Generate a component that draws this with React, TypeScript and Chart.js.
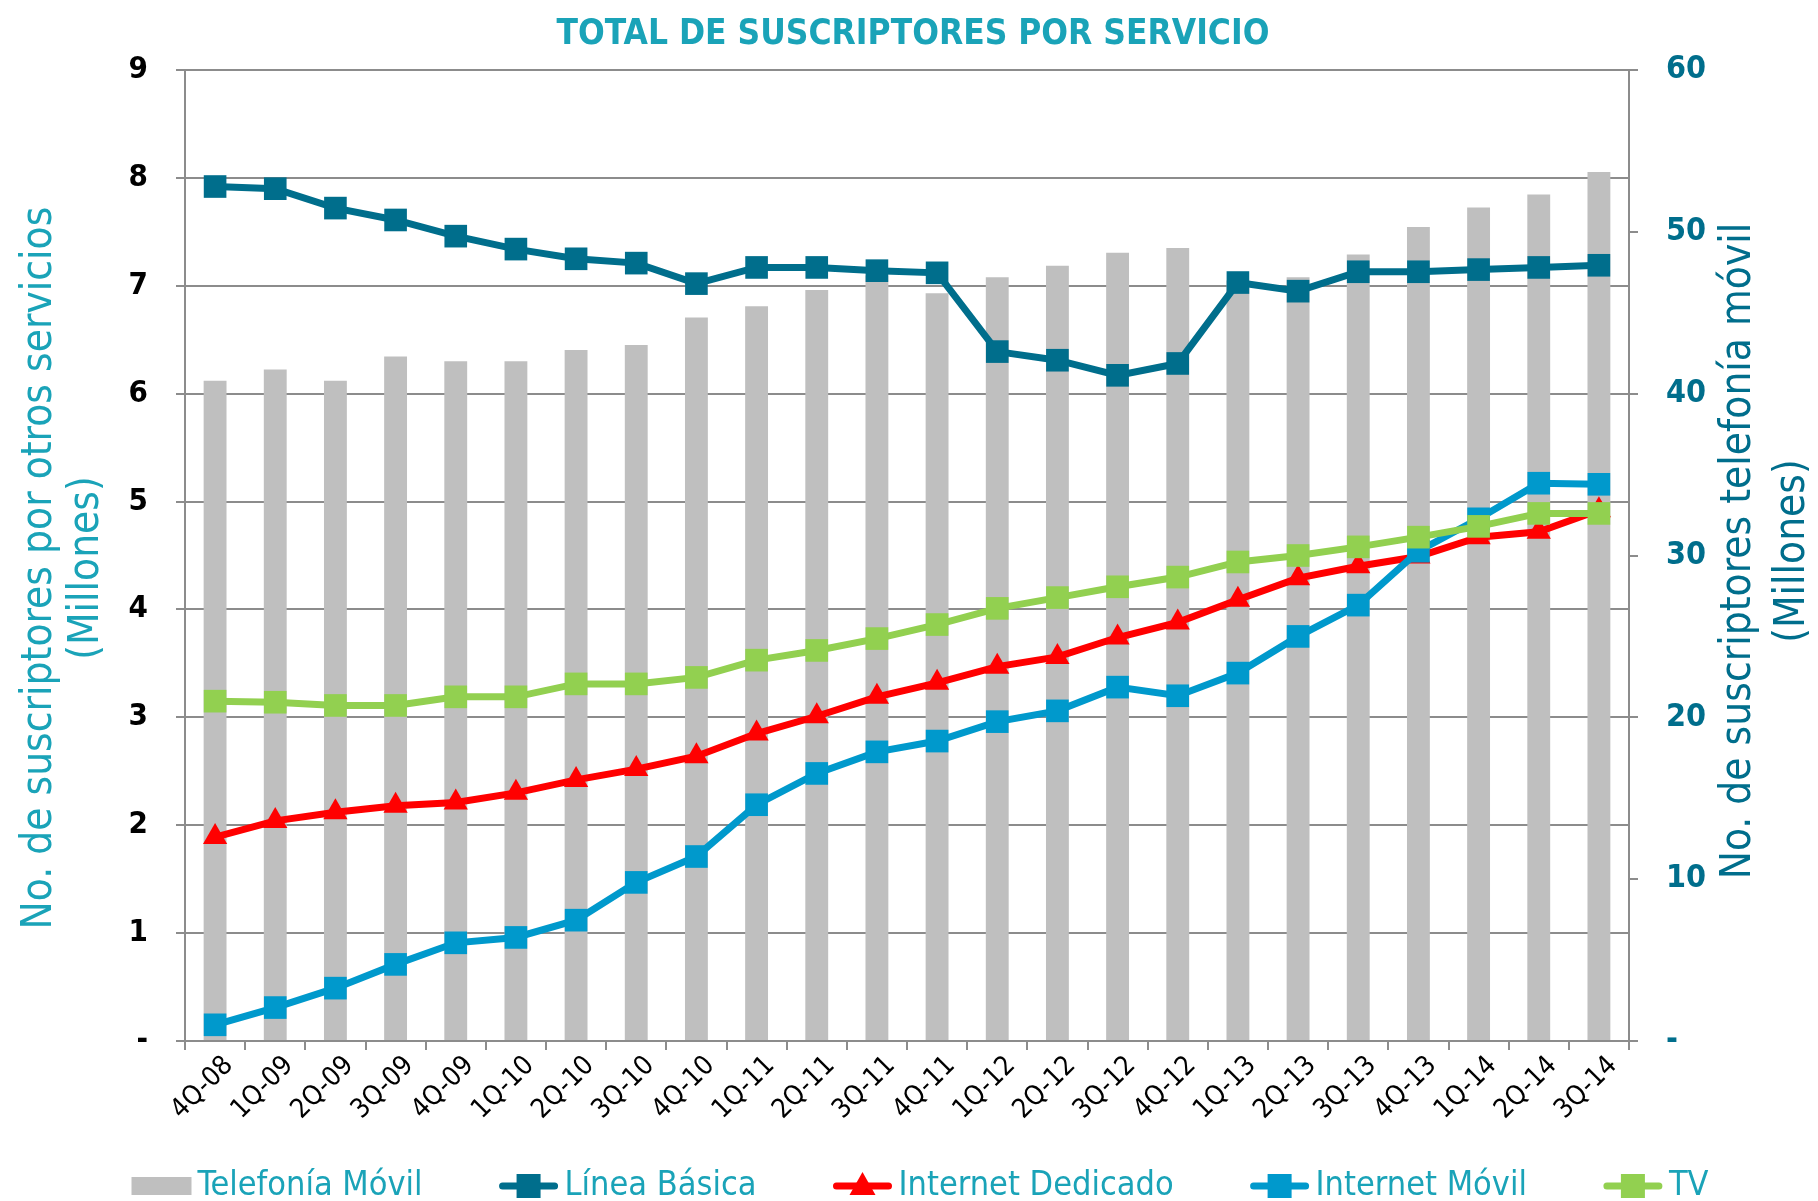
import React, { useEffect, useRef } from "react";
import { Chart, registerables } from "chart.js";

Chart.register(...registerables);

const categories = [
  "4Q-08", "1Q-09", "2Q-09", "3Q-09", "4Q-09", "1Q-10", "2Q-10", "3Q-10",
  "4Q-10", "1Q-11", "2Q-11", "3Q-11", "4Q-11", "1Q-12", "2Q-12", "3Q-12",
  "4Q-12", "1Q-13", "2Q-13", "3Q-13", "4Q-13", "1Q-14", "2Q-14", "3Q-14",
];

const telefoniaMovil = [
  40.8, 41.5, 40.8, 42.3, 42.0, 42.0, 42.7, 43.0, 44.7, 45.4, 46.4, 47.3,
  46.2, 47.2, 47.9, 48.7, 49.0, 47.0, 47.2, 48.6, 50.3, 51.5, 52.3, 53.7,
];

const lineaBasica = [
  7.92, 7.9, 7.72, 7.61, 7.46, 7.34, 7.25, 7.21, 7.02, 7.17, 7.17, 7.14,
  7.12, 6.39, 6.31, 6.17, 6.28, 7.03, 6.95, 7.13, 7.13, 7.15, 7.17, 7.19,
];

const internetDedicado = [
  1.89, 2.04, 2.12, 2.18, 2.21, 2.3, 2.42, 2.52, 2.64, 2.85, 3.01, 3.19,
  3.32, 3.47, 3.56, 3.74, 3.88, 4.09, 4.29, 4.4, 4.49, 4.67, 4.72, 4.92,
];

const internetMovil = [
  0.15, 0.31, 0.49, 0.71, 0.91, 0.96, 1.12, 1.47, 1.71, 2.19, 2.48, 2.68,
  2.78, 2.96, 3.06, 3.28, 3.2, 3.41, 3.75, 4.04, 4.54, 4.84, 5.17, 5.16,
];

const tv = [
  3.15, 3.14, 3.11, 3.11, 3.19, 3.19, 3.31, 3.31, 3.37, 3.53, 3.62, 3.73,
  3.86, 4.01, 4.11, 4.21, 4.3, 4.44, 4.5, 4.58, 4.67, 4.77, 4.89, 4.89,
];

const leftTickLabels = ["-", "1", "2", "3", "4", "5", "6", "7", "8", "9"];
const rightTickLabels = ["-", "10", "20", "30", "40", "50", "60"];

const TITLE = "TOTAL DE SUSCRIPTORES POR SERVICIO";
const LEFT_TITLE = ["No. de suscriptores por otros servicios", "(Millones)"];
const RIGHT_TITLE = ["No. de suscriptores telefonía móvil", "(Millones)"];

const FONT = "'Liberation Sans Narrow', 'DejaVu Sans Condensed', sans-serif";
const TEAL_LIGHT = "#1AA3B8";
const TEAL_DARK = "#006E8C";
const RED = "#FF0000";
const BLUE = "#0099CC";
const GREEN = "#92D050";
const BAR_GREY = "#BFBFBF";
const GRID = "#8C8C8C";

type LegendItem = { label: string; kind: "bar" | "rect" | "triangle"; color: string };
const legendItems: LegendItem[] = [
  { label: "Telefonía Móvil", kind: "bar", color: BAR_GREY },
  { label: "Línea Básica", kind: "rect", color: TEAL_DARK },
  { label: "Internet Dedicado", kind: "triangle", color: RED },
  { label: "Internet Móvil", kind: "rect", color: BLUE },
  { label: "TV", kind: "rect", color: GREEN },
];

const textPlugin = {
  id: "textPlugin",
  afterDraw(chart: any) {
    const ctx: CanvasRenderingContext2D = chart.ctx;
    ctx.save();
    // Title
    ctx.font = `bold 35px ${FONT}`;
    ctx.fillStyle = TEAL_LIGHT;
    ctx.textAlign = "center";
    ctx.textBaseline = "middle";
    ctx.fillText(TITLE, 913, 35);

    // Axis titles
    ctx.font = `42px ${FONT}`;
    const drawRot = (text: string, x: number, y: number, color: string) => {
      ctx.save();
      ctx.translate(x, y);
      ctx.rotate(-Math.PI / 2);
      ctx.fillStyle = color;
      ctx.textAlign = "center";
      ctx.textBaseline = "middle";
      ctx.fillText(text, 0, 0);
      ctx.restore();
    };
    drawRot(LEFT_TITLE[0], 40, 568, TEAL_LIGHT);
    drawRot(LEFT_TITLE[1], 87, 568, TEAL_LIGHT);
    drawRot(RIGHT_TITLE[0], 1739, 551, TEAL_DARK);
    drawRot(RIGHT_TITLE[1], 1793, 551, TEAL_DARK);

    // Legend
    ctx.font = `34px ${FONT}`;
    const iconW = 60;
    const iconGap = 6;
    const itemGap = 76;
    const widths = legendItems.map((it) => iconW + iconGap + ctx.measureText(it.label).width);
    const total = widths.reduce((a, b) => a + b, 0) + itemGap * (legendItems.length - 1);
    let x = 920 - total / 2;
    const cy = 1186;
    legendItems.forEach((it, i) => {
      ctx.fillStyle = it.color;
      if (it.kind === "bar") {
        ctx.fillRect(x, cy - 9, iconW, 18);
      } else {
        ctx.strokeStyle = it.color;
        ctx.lineWidth = 7;
        ctx.lineCap = "round";
        ctx.beginPath();
        ctx.moveTo(x + 4, cy);
        ctx.lineTo(x + iconW - 4, cy);
        ctx.stroke();
        const mx = x + iconW / 2;
        if (it.kind === "rect") {
          ctx.fillRect(mx - 12, cy - 12, 24, 24);
        } else {
          ctx.beginPath();
          ctx.moveTo(mx, cy - 14);
          ctx.lineTo(mx + 13, cy + 9);
          ctx.lineTo(mx - 13, cy + 9);
          ctx.closePath();
          ctx.fill();
        }
      }
      ctx.fillStyle = TEAL_LIGHT;
      ctx.textAlign = "left";
      ctx.textBaseline = "middle";
      ctx.fillText(it.label, x + iconW + iconGap, cy);
      x += widths[i] + itemGap;
    });
    ctx.restore();
  },
};

export default function App() {
  const canvasRef = useRef<HTMLCanvasElement | null>(null);

  useEffect(() => {
    if (!canvasRef.current) return;
    const lineDs = (label: string, data: number[], color: string, style: string, radius: number, order: number) => ({
      type: "line" as const,
      label,
      data,
      yAxisID: "y",
      borderColor: color,
      backgroundColor: color,
      borderWidth: 7,
      tension: 0,
      pointStyle: style,
      pointRadius: radius,
      pointHoverRadius: radius,
      pointBackgroundColor: color,
      pointBorderColor: color,
      pointBorderWidth: 0,
      order,
    });

    const chart = new Chart(canvasRef.current, {
      type: "bar",
      data: {
        labels: categories,
        datasets: [
          {
            type: "bar",
            label: "Telefonía Móvil",
            data: telefoniaMovil,
            yAxisID: "y1",
            backgroundColor: BAR_GREY,
            barPercentage: 0.38,
            categoryPercentage: 1,
            order: 5,
          } as any,
          lineDs("Línea Básica", lineaBasica, TEAL_DARK, "rect", 16, 4),
          lineDs("Internet Dedicado", internetDedicado, RED, "triangle", 14, 3),
          lineDs("Internet Móvil", internetMovil, BLUE, "rect", 16, 2),
          lineDs("TV", tv, GREEN, "rect", 16, 1),
        ],
      },
      options: {
        responsive: false,
        animation: false,
        devicePixelRatio: 1,
        layout: { padding: { top: 70, left: 0, right: 0, bottom: 0 } },
        plugins: {
          legend: { display: false },
          title: { display: false },
          tooltip: { enabled: false },
        },
        scales: {
          x: {
            offset: true,
            grid: {
              offset: true,
              drawOnChartArea: false,
              drawTicks: true,
              tickLength: 9,
              color: GRID,
              lineWidth: 2,
            },
            border: { color: GRID, width: 2 },
            ticks: {
              autoSkip: false,
              maxRotation: 45,
              minRotation: 45,
              labelOffset: 14,
              padding: 0,
              color: "#000000",
              font: { family: FONT, size: 27 },
            },
            afterFit: (scale: any) => {
              scale.height = 160;
            },
          },
          y: {
            position: "left",
            min: 0,
            max: 9,
            ticks: {
              stepSize: 1,
              padding: 28,
              color: "#000000",
              font: { family: FONT, size: 31, weight: "bold" },
              callback: (_v: any, i: number) => leftTickLabels[i],
            },
            grid: { color: GRID, lineWidth: 2, tickLength: 9 },
            border: { color: GRID, width: 2 },
            afterFit: (scale: any) => {
              scale.width = 185;
            },
          },
          y1: {
            position: "right",
            min: 0,
            max: 60,
            ticks: {
              stepSize: 10,
              padding: 28,
              color: TEAL_DARK,
              font: { family: FONT, size: 32, weight: "bold" },
              callback: (_v: any, i: number) => rightTickLabels[i],
            },
            grid: { drawOnChartArea: false, color: GRID, lineWidth: 2, tickLength: 9 },
            border: { color: GRID, width: 2 },
            afterFit: (scale: any) => {
              scale.width = 189;
            },
          },
        },
      } as any,
      plugins: [textPlugin],
    });
    return () => chart.destroy();
  }, []);

  return (
    <div style={{ position: "absolute", left: 0, top: 0, width: 1818, height: 1201, background: "#ffffff" }}>
      <canvas ref={canvasRef} width={1818} height={1201} style={{ display: "block" }} />
    </div>
  );
}
